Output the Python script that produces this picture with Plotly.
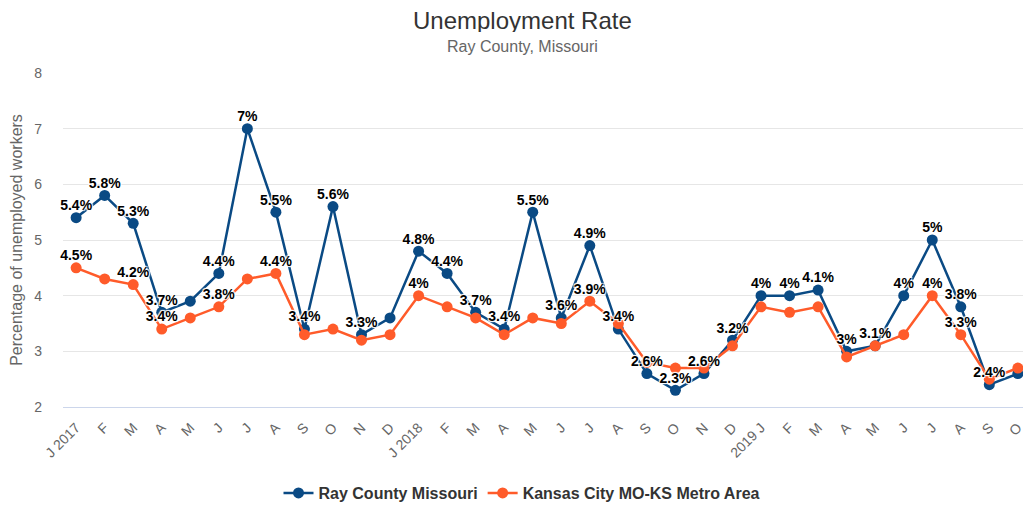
import plotly.graph_objects as go

months = ['J 2017', 'F', 'M', 'A', 'M', 'J', 'J', 'A', 'S', 'O', 'N', 'D',
          'J 2018', 'F', 'M', 'A', 'M', 'J', 'J', 'A', 'S', 'O', 'N', 'D',
          '2019 J', 'F', 'M', 'A', 'M', 'J', 'J', 'A', 'S', 'O']

ray = [5.4, 5.8, 5.3, 3.7, 3.9, 4.4, 7.0, 5.5, 3.4, 5.6, 3.3, 3.6,
       4.8, 4.4, 3.7, 3.4, 5.5, 3.6, 4.9, 3.4, 2.6, 2.3, 2.6, 3.2,
       4.0, 4.0, 4.1, 3.0, 3.1, 4.0, 5.0, 3.8, 2.4, 2.6]

kc = [4.5, 4.3, 4.2, 3.4, 3.6, 3.8, 4.3, 4.4, 3.3, 3.4, 3.2, 3.3,
      4.0, 3.8, 3.6, 3.3, 3.6, 3.5, 3.9, 3.5, 2.8, 2.7, 2.7, 3.1,
      3.8, 3.7, 3.8, 2.9, 3.1, 3.3, 4.0, 3.3, 2.5, 2.7]

# which data labels survive the overlap check in the original
ray_shown = [1, 1, 1, 1, 0, 1, 1, 1, 1, 1, 1, 0,
             1, 1, 1, 1, 1, 1, 1, 1, 1, 1, 1, 1,
             1, 1, 1, 1, 1, 1, 1, 1, 1, 0]
kc_shown = [1, 0, 1, 1, 0, 1, 0, 1, 0, 0, 0, 0,
            1, 0, 0, 0, 0, 0, 1, 0, 0, 0, 0, 0,
            0, 0, 0, 0, 0, 0, 1, 1, 0, 0]

BLUE = '#0a4a84'
ORANGE = '#ff5b2a'
FONT = 'Liberation Sans, Arial, sans-serif'
OUTLINE = '1px 1px 1px #fff, -1px -1px 1px #fff, 1px -1px 1px #fff, -1px 1px 1px #fff'

x = list(range(len(months)))

# the page body adds an 8px margin, so the figure is shrunk by that much
# and every position below is given in window pixels minus the offset
OFF = 8
W = 1031 - OFF
H = 506 - OFF
PLOT_LEFT = 63 - OFF
PLOT_TOP = 73 - OFF
PLOT_H = 334
PLOT_W = W - PLOT_LEFT


def fmt(v):
  return f'{v:g}%'


def yPaper(py):
  return (PLOT_TOP + PLOT_H - (py - OFF)) / PLOT_H


def xPaper(px):
  return (px - OFF - PLOT_LEFT) / PLOT_W


fig = go.Figure()

for name, vals, color in [('Ray County Missouri', ray, BLUE),
                          ('Kansas City MO-KS Metro Area', kc, ORANGE)]:
  fig.add_trace(go.Scatter(
    x=x, y=vals, name=name, mode='lines+markers',
    line=dict(color=color, width=2.5),
    marker=dict(color=color, size=11),
    cliponaxis=False,
    hoverinfo='skip'
  ))

# labels drawn after both lines so they sit on top
for vals, shown in [(ray, ray_shown), (kc, kc_shown)]:
  fig.add_trace(go.Scatter(
    x=x, y=vals, mode='markers+text', showlegend=False,
    marker=dict(size=5, opacity=0),
    text=[fmt(v) if s else '' for v, s in zip(vals, shown)],
    textposition='top center',
    textfont=dict(family=FONT, size=14, color='#000000', weight='bold',
                  shadow=OUTLINE),
    cliponaxis=False,
    hoverinfo='skip'
  ))

fig.update_layout(
  width=W, height=H,
  plot_bgcolor='white', paper_bgcolor='white',
  font=dict(family=FONT, color='#666666'),
  margin=dict(l=PLOT_LEFT, r=0, t=PLOT_TOP, b=H - PLOT_TOP - PLOT_H,
              autoexpand=False),
  annotations=[
    dict(text='Unemployment Rate', xref='paper', yref='paper',
         x=xPaper(522), y=yPaper(20), showarrow=False,
         xanchor='center', yanchor='middle', height=24, valign='middle',
         font=dict(size=24, color='#333333', family=FONT)),
    dict(text='Ray County, Missouri', xref='paper', yref='paper',
         x=xPaper(522), y=yPaper(47), showarrow=False,
         xanchor='center', yanchor='middle',
         font=dict(size=16, color='#666666', family=FONT)),
  ],
  xaxis=dict(
    tickmode='array', tickvals=x, ticktext=months, tickangle=-45,
    range=[-0.46, 33.46], showgrid=False, zeroline=False,
    showline=True, linecolor='#ccd6eb', linewidth=1,
    tickfont=dict(size=14, color='#666666'), ticks='',
    ticklabelstandoff=6, automargin=False
  ),
  yaxis=dict(
    range=[2, 8], dtick=1, showgrid=True, gridcolor='#e6e6e6',
    zeroline=False, tickfont=dict(size=14, color='#666666'),
    ticklabelstandoff=20, automargin=False,
    title=dict(text='Percentage of unemployed workers',
               font=dict(size=16, color='#666666'), standoff=10)
  ),
  legend=dict(orientation='h', x=xPaper(522), xanchor='center',
              y=yPaper(493), yanchor='middle',
              font=dict(size=16, color='#333333', weight='bold'))
)

fig.write_html('out.html')
